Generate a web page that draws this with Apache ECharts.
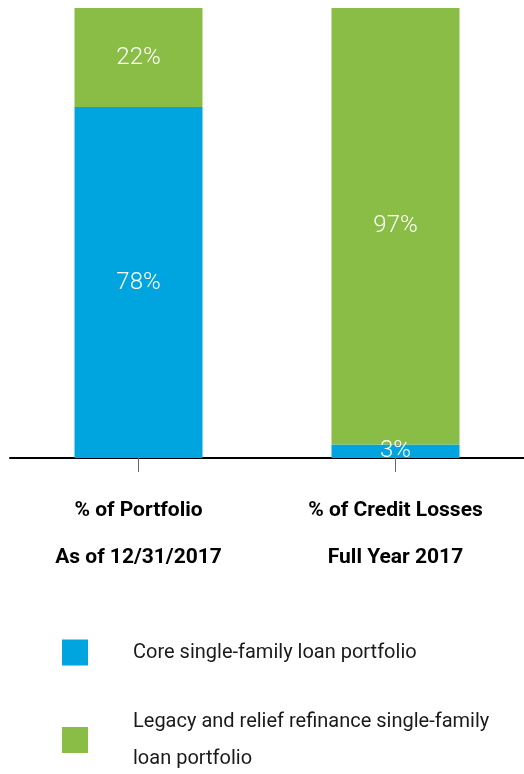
<!DOCTYPE html>
<html><head><meta charset="utf-8">
<script src="https://cdn.jsdelivr.net/npm/echarts@6/dist/echarts.min.js"></script>
<style>html,body{margin:0;padding:0;background:#fff}#c{width:524px;height:774px}</style>
</head><body><div id="c"></div>
<script>
const categories = ['% of Portfolio\nAs of 12/31/2017', '% of Credit Losses\nFull Year 2017'];
const seriesNames = ['Core single-family loan portfolio', 'Legacy and relief refinance single-family loan portfolio'];
const coreValues = [78, 3];
const legacyValues = [22, 97];

const FONT = "Roboto, 'Liberation Sans', sans-serif";
const chart = echarts.init(document.getElementById('c'), null, {renderer: 'canvas'});
const labelCfg = {
  show: true, position: 'inside', color: '#fff', fontFamily: FONT, fontWeight: 300, fontSize: 24,
  formatter: p => p.value + '%'
};
const legendText = {fontFamily: FONT, fontSize: 20, color: '#1a1a1a', lineHeight: 37, padding: [0, 0, 0, 40]};
chart.setOption({
  animation: false,
  grid: {left: 10, right: 0, top: 8, bottom: 316},
  xAxis: {
    type: 'category', data: categories,
    axisLine: {show: true, lineStyle: {color: '#000', width: 2}},
    axisTick: {show: true, alignWithLabel: true, interval: 0, length: 14, lineStyle: {color: '#666', width: 1}},
    axisLabel: {interval: 0, margin: 29, color: '#000', fontFamily: FONT, fontWeight: 'bold', fontSize: 21, lineHeight: 47}
  },
  yAxis: {type: 'value', min: 0, max: 100, show: false},
  legend: [
    {left: 62, top: 634, padding: 0, itemWidth: 26, itemHeight: 26, icon: 'rect',
     data: [seriesNames[0]], textStyle: legendText},
    {left: 62, top: 703, padding: 0, itemWidth: 26, itemHeight: 26, icon: 'rect',
     data: [seriesNames[1]],
     formatter: () => 'Legacy and relief refinance single-family\nloan portfolio',
     textStyle: legendText}
  ],
  series: [
    {name: seriesNames[0], type: 'bar', stack: 's', data: coreValues, barWidth: 128,
     itemStyle: {color: '#00a5e0'}, label: labelCfg},
    {name: seriesNames[1], type: 'bar', stack: 's', data: legacyValues, barWidth: 128,
     itemStyle: {color: '#8abd46'}, label: labelCfg}
  ]
});
</script></body></html>
